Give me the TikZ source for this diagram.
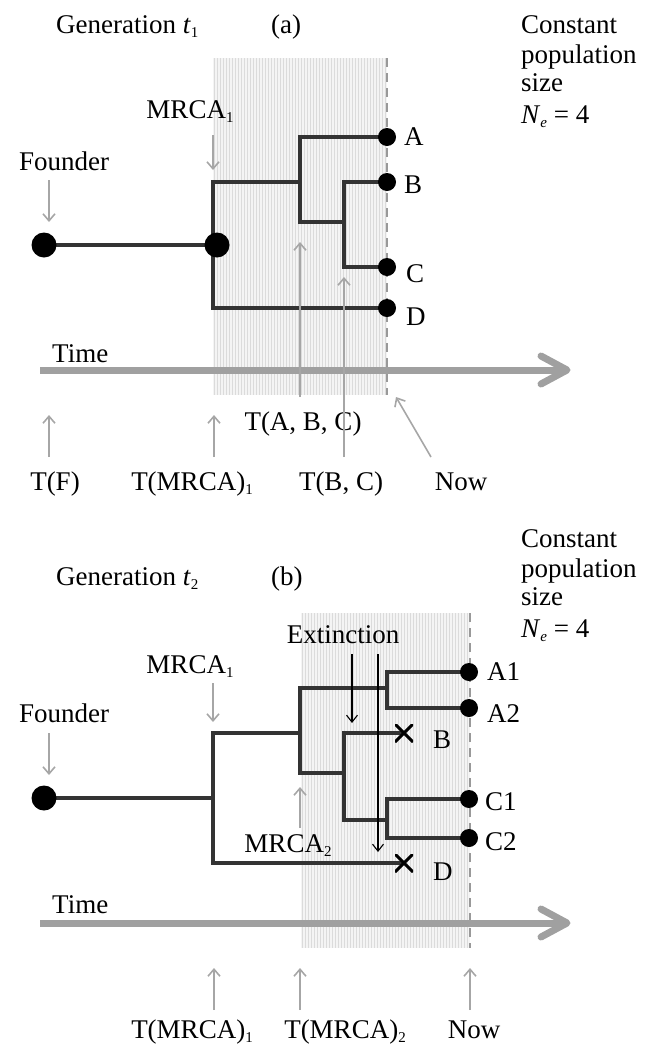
\documentclass[tikz,border=0pt]{standalone}
\usepackage{fontspec}
\setmainfont{Liberation Serif}
\usetikzlibrary{arrows.meta}
\pgfdeclarelayer{shadelayer}
\pgfdeclarelayer{branchlayer}
\pgfsetlayers{shadelayer,branchlayer,main}
\newcommand{\lowidx}[1]{\raisebox{-0.17em}{\fontsize{15}{15}\selectfont #1}}
\definecolor{treec}{HTML}{333333}
\definecolor{arrowc}{HTML}{A6A6A6}
\definecolor{timec}{HTML}{A0A0A0}
\definecolor{dashc}{HTML}{999999}
\begin{document}
\begin{tikzpicture}[x=1pt,y=-1pt,
  font=\fontsize{27}{32}\selectfont,
  txt/.style={inner sep=0pt, anchor=base west},
  ctxt/.style={inner sep=0pt, anchor=base},
  branch/.style={draw=treec, line width=4pt},
  garrow/.style={draw=arrowc, line width=1.6pt, -{Straight Barb[length=7pt,width=12pt,line width=1.6pt]}},
  karrow/.style={draw=black, line width=1.1pt, -{Straight Barb[length=7pt,width=11pt,line width=1.1pt]}},
  bigdot/.style={circle, fill=black, inner sep=0pt, minimum size=25pt},
  tipdot/.style={circle, fill=black, inner sep=0pt, minimum size=18pt},
  xmark/.style={inner sep=0pt, minimum size=18pt,
    path picture={\draw[black, line width=3pt] (path picture bounding box.north west) -- (path picture bounding box.south east)
      (path picture bounding box.south west) -- (path picture bounding box.north east);}},
  timeline/.style={draw=timec, line width=7pt},
  nowline/.style={draw=dashc, line width=2pt, dash pattern=on 9pt off 6pt},
  shadefill/.style={fill=gray!9},
  shadeline/.style={draw=gray!28, line width=0.8pt}
]
\useasboundingbox (0,0) rectangle (650,1047);

% ================= Panel (a) =================
\node[txt] (gena) at (56,33) {Generation \textit{t}\lowidx{1}};
\node[txt] (laba) at (271,33) {(a)};
\node[txt] (cona1) at (521,33) {Constant};
\node[txt] (cona2) at (521,63) {population};
\node[txt] (cona3) at (521,91) {size};
\node[txt] (cona4) at (521,123) {\textit{N}\lowidx{\textit{e}} = 4};

\begin{pgfonlayer}{shadelayer}
  \fill[shadefill] (213,58) rectangle (387,395);
  \foreach \xx in {214,217,...,386} {\draw[shadeline] (\xx,58) -- (\xx,395);}
\end{pgfonlayer}
\coordinate (nowta) at (387,58);
\coordinate (nowba) at (387,395);
\draw[nowline] (nowta) -- (nowba);

\node[ctxt] (mrcaa) at (190,118) {MRCA\lowidx{1}};
\node[txt] (fnda) at (19,170) {Founder};
\coordinate (mrcaas) at (213,135); \coordinate (mrcaae) at (213,170);
\draw[garrow] (mrcaas) -- (mrcaae);
\coordinate (fndas) at (49,180); \coordinate (fndae) at (49,222);
\draw[garrow] (fndas) -- (fndae);

\node[bigdot] (fa) at (44,245) {};
\node[bigdot] (ma) at (217,245) {};
\node[tipdot] (A) at (387,137) {};
\node[tipdot] (B) at (387,182) {};
\node[tipdot] (C) at (387,267) {};
\node[tipdot] (D) at (387,308) {};
\node[txt] (labA) at (404,145) {A};
\node[txt] (labB) at (404,193) {B};
\node[txt] (labC) at (406,282) {C};
\node[txt] (labD) at (406,325) {D};

\begin{pgfonlayer}{branchlayer}
  \draw[branch] (fa.center) -- (ma.center);
  \draw[branch] (D.center) -| (213,182) -- (300,182);
  \draw[branch] (A.center) -| (300,222) -- (344,222);
  \draw[branch] (B.center) -| (344,267) -- (C.center);
\end{pgfonlayer}

\node[txt] (timea) at (52,362) {Time};
\coordinate (ta0) at (40,370); \coordinate (ta1) at (563,370);
\draw[timeline] (ta0) -- (ta1);
\draw[timeline, line cap=round, line join=round] (541,356) -- (567,370) -- (541,384);

\node[ctxt] (tabc) at (303,430) {T(A, B, C)};
\coordinate (tabcs) at (300,397); \coordinate (tabce) at (300,242);
\draw[garrow] (tabcs) -- (tabce);
\coordinate (tbcs) at (344,457); \coordinate (tbce) at (344,277);
\draw[garrow] (tbcs) -- (tbce);
\coordinate (tfs) at (49,457); \coordinate (tfe) at (49,415);
\draw[garrow] (tfs) -- (tfe);
\coordinate (tma1s) at (214,457); \coordinate (tma1e) at (214,415);
\draw[garrow] (tma1s) -- (tma1e);
\coordinate (nowas) at (431,457); \coordinate (nowae) at (396,397);
\draw[garrow] (nowas) -- (nowae);

\node[ctxt] (tf) at (55,490) {T(F)};
\node[ctxt] (tma1) at (192,490) {T(MRCA)\lowidx{1}};
\node[ctxt] (tbc) at (341,490) {T(B, C)};
\node[ctxt] (nowa) at (461,490) {Now};

% ================= Panel (b) =================
\node[txt] (genb) at (56,585) {Generation \textit{t}\lowidx{2}};
\node[txt] (labb) at (271,585) {(b)};
\node[txt] (conb1) at (521,547) {Constant};
\node[txt] (conb2) at (521,577) {population};
\node[txt] (conb3) at (521,605) {size};
\node[txt] (conb4) at (521,637) {\textit{N}\lowidx{\textit{e}} = 4};

\begin{pgfonlayer}{shadelayer}
  \fill[shadefill] (301,613) rectangle (470,948);
  \foreach \xx in {302,305,...,469} {\draw[shadeline] (\xx,613) -- (\xx,948);}
\end{pgfonlayer}
\coordinate (nowtb) at (470,613);
\coordinate (nowbb) at (470,948);
\draw[nowline] (nowtb) -- (nowbb);

\node[ctxt] (ext) at (343,643) {Extinction};
\node[ctxt] (mrcab) at (190,673) {MRCA\lowidx{1}};
\node[txt] (fndb) at (19,722) {Founder};
\coordinate (mrcabs) at (213,683); \coordinate (mrcabe) at (213,722);
\draw[garrow] (mrcabs) -- (mrcabe);
\coordinate (fndbs) at (49,733); \coordinate (fndbe) at (49,775);
\draw[garrow] (fndbs) -- (fndbe);

\node[bigdot] (fb) at (44,798) {};
\node[tipdot] (A1) at (469,672) {};
\node[tipdot] (A2) at (469,708) {};
\node[tipdot] (C1) at (469,799) {};
\node[tipdot] (C2) at (469,838) {};
\node[xmark] (xB) at (404,733) {};
\node[xmark] (xD) at (404,863) {};
\node[txt] (labA1) at (487,680) {A1};
\node[txt] (labA2) at (487,722) {A2};
\node[txt] (labBb) at (433,748) {B};
\node[txt] (labC1) at (485,810) {C1};
\node[txt] (labC2) at (485,850) {C2};
\node[txt] (labDb) at (433,880) {D};

\begin{pgfonlayer}{branchlayer}
  \draw[branch] (fb.center) -- (213,798);
  \draw[branch] (xD.center) -| (213,733) -- (300,733);
  \draw[branch] (A1.center) -| (387,708) -- (A2.center);
  \draw[branch] (387,688) -| (300,773) -- (344,773);
  \draw[branch] (xB.center) -| (344,820) -- (387,820);
  \draw[branch] (C1.center) -| (387,838) -- (C2.center);
\end{pgfonlayer}

\coordinate (ex1s) at (352,654); \coordinate (ex1e) at (352,723);
\draw[karrow] (ex1s) -- (ex1e);
\coordinate (ex2s) at (378,654); \coordinate (ex2e) at (378,852);
\draw[karrow] (ex2s) -- (ex2e);

\node[ctxt] (mrca2) at (288,852) {MRCA\lowidx{2}};
\coordinate (mrca2s) at (300,828); \coordinate (mrca2e) at (300,787);
\draw[garrow] (mrca2s) -- (mrca2e);

\node[txt] (timeb) at (52,913) {Time};
\coordinate (tb0) at (40,923); \coordinate (tb1) at (563,923);
\draw[timeline] (tb0) -- (tb1);
\draw[timeline, line cap=round, line join=round] (541,909) -- (567,923) -- (541,937);

\coordinate (b1s) at (214,1010); \coordinate (b1e) at (214,968);
\draw[garrow] (b1s) -- (b1e);
\coordinate (b2s) at (300,1010); \coordinate (b2e) at (300,968);
\draw[garrow] (b2s) -- (b2e);
\coordinate (b3s) at (470,1010); \coordinate (b3e) at (470,968);
\draw[garrow] (b3s) -- (b3e);

\node[ctxt] (tmb1) at (192,1038) {T(MRCA)\lowidx{1}};
\node[ctxt] (tmb2) at (345,1038) {T(MRCA)\lowidx{2}};
\node[ctxt] (nowb) at (474,1038) {Now};
\end{tikzpicture}
\end{document}
